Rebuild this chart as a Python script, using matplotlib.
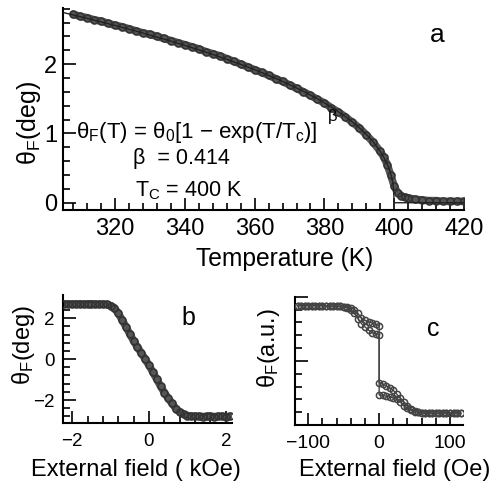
import numpy as np
import matplotlib
matplotlib.use("Agg")
import matplotlib.pyplot as plt
from matplotlib.ticker import MultipleLocator

plt.rcParams['font.family'] = ['Liberation Sans', 'DejaVu Sans']
plt.rcParams['mathtext.fontset'] = 'custom'
plt.rcParams['mathtext.rm'] = 'Liberation Sans'
plt.rcParams['mathtext.it'] = 'Liberation Sans:italic'
plt.rcParams['mathtext.default'] = 'regular'

# ---- (a) Faraday rotation vs temperature ----
temp_K = [308, 310, 312, 314, 316, 318, 320, 322, 324, 326, 328, 330, 332, 334,
          336, 338, 340, 342, 344, 346, 348, 350, 352, 354, 356, 358, 360, 362,
          364, 366, 368, 370, 372, 374, 376, 378, 380, 382, 384, 386, 388, 390,
          392, 394, 396, 397, 398, 399, 400, 401, 402, 403, 404, 406, 408, 410,
          412, 414, 416, 418, 420]
theta_T = [2.72, 2.69, 2.67, 2.64, 2.62, 2.59, 2.56, 2.54, 2.51, 2.48, 2.45, 2.43,
           2.40, 2.37, 2.34, 2.31, 2.28, 2.25, 2.22, 2.18, 2.15, 2.12, 2.08, 2.04,
           2.00, 1.96, 1.92, 1.88, 1.84, 1.79, 1.75, 1.70, 1.65, 1.60, 1.55, 1.49,
           1.44, 1.37, 1.31, 1.24, 1.16, 1.08, 0.98, 0.87, 0.74, 0.66, 0.55, 0.40,
           0.24, 0.14, 0.10, 0.08, 0.07, 0.05, 0.04, 0.03, 0.03, 0.02, 0.02, 0.02,
           0.02]
BETA = 0.414
T_C = 400.0
THETA_0 = 4.98

# ---- (b) Faraday rotation vs field (kOe) ----
field_kOe = [-2.2, -2.1, -2.0, -1.9, -1.8, -1.7, -1.6, -1.5, -1.4, -1.3, -1.2,
             -1.1, -1.0, -0.9, -0.8, -0.7, -0.6, -0.5, -0.4, -0.3, -0.2, -0.1,
             0.0, 0.1, 0.2, 0.3, 0.4, 0.5, 0.6, 0.7, 0.8, 0.9, 1.0, 1.1, 1.2,
             1.3, 1.4, 1.5, 1.6, 1.7, 1.8, 1.9, 2.0, 2.1]
theta_b = [2.70, 2.70, 2.69, 2.70, 2.70, 2.69, 2.70, 2.70, 2.69, 2.69, 2.69,
           2.68, 2.62, 2.50, 2.25, 1.92, 1.58, 1.23, 0.89, 0.58, 0.30, 0.00,
           -0.30, -0.64, -0.98, -1.32, -1.64, -1.92, -2.17, -2.42, -2.60, -2.70,
           -2.76, -2.79, -2.80, -2.80, -2.81, -2.80, -2.80, -2.81, -2.80, -2.80,
           -2.81, -2.80]

# ---- (c) hysteresis loop vs field (Oe) ----
field_up = [-115, -110, -105, -100, -95, -90, -85, -80, -75, -70, -65, -60, -55,
            -50, -45, -40, -35, -30, -25, -20, -15, -10, -5, 0, 0, 5, 10, 15,
            20, 25, 30, 35, 40, 45, 50, 55, 60, 65, 70, 75, 80, 85, 90, 95, 100,
            105, 110, 115]
theta_up = [0.86, 0.86, 0.86, 0.86, 0.86, 0.86, 0.86, 0.86, 0.86, 0.855, 0.85,
            0.85, 0.85, 0.845, 0.84, 0.83, 0.80, 0.74, 0.67, 0.63, 0.61, 0.59,
            0.57, 0.55, -0.34, -0.36, -0.39, -0.42, -0.46, -0.52, -0.58, -0.64,
            -0.70, -0.75, -0.78, -0.80, -0.81, -0.815, -0.815, -0.815, -0.815,
            -0.815, -0.815, -0.815, -0.815, -0.815, -0.815, -0.815]
field_down = [115, 110, 105, 100, 95, 90, 85, 80, 75, 70, 65, 60, 55, 50, 45,
              40, 35, 30, 25, 20, 15, 10, 5, 0, 0, -5, -10, -15, -20, -25, -30,
              -35, -40, -45, -50, -55, -60, -65, -70, -75, -80, -85, -90, -95,
              -100, -105, -110, -115]
theta_down = [-0.815, -0.815, -0.815, -0.815, -0.815, -0.815, -0.815, -0.815,
              -0.815, -0.815, -0.815, -0.81, -0.80, -0.79, -0.77, -0.74, -0.70,
              -0.64, -0.60, -0.58, -0.56, -0.55, -0.54, -0.53, 0.40, 0.42, 0.44,
              0.48, 0.53, 0.58, 0.66, 0.74, 0.80, 0.83, 0.84, 0.85, 0.85, 0.85,
              0.85, 0.855, 0.86, 0.86, 0.86, 0.86, 0.86, 0.86, 0.86, 0.86]

DATA_C = '#444444'
W, H = 494, 482

fig = plt.figure(figsize=(W / 100, H / 100), dpi=100)


def px_axes(left, top, right, bottom):
    return fig.add_axes([left / W, 1 - bottom / H, (right - left) / W,
                         (bottom - top) / H])


def style(ax, size=15, pad_x=7, pad_y=5):
    for s in ('top', 'right'):
        ax.spines[s].set_visible(False)
    for s in ('left', 'bottom'):
        ax.spines[s].set_linewidth(1.5)
    ax.tick_params(which='both', direction='in', width=1.2, labelsize=size)
    ax.tick_params(which='major', length=9)
    ax.tick_params(which='minor', length=5)
    ax.tick_params(axis='x', pad=pad_x)
    ax.tick_params(axis='y', pad=pad_y)


# panel a
ax_a = px_axes(62.7, 8, 464, 210)
style(ax_a, size=17, pad_x=6, pad_y=4)
ax_a.plot(temp_K, theta_T, '-', color=DATA_C, lw=5.5, alpha=0.9, zorder=2,
          solid_capstyle='round')
ax_a.plot(temp_K, theta_T, 'o', ms=5, mfc='none', mec='#333333', mew=1.2,
          zorder=3)
t_fit = np.linspace(305, T_C, 400)
fit = THETA_0 * np.clip(1 - t_fit / T_C, 0, None) ** BETA
ax_a.plot(np.append(t_fit, [T_C, 420]), np.append(fit, [0, 0]), '-',
          color='#222222', lw=1.0, zorder=4)
ax_a.set_xlim(305, 420)
ax_a.set_ylim(-0.105, 2.81)
ax_a.xaxis.set_major_locator(MultipleLocator(20))
ax_a.xaxis.set_minor_locator(MultipleLocator(4))
ax_a.yaxis.set_major_locator(MultipleLocator(1))
ax_a.yaxis.set_minor_locator(MultipleLocator(0.2))
ax_a.set_xlabel('Temperature (K)', fontsize=17.7)
ax_a.xaxis.set_label_coords(0.554, -0.185)
ax_a.set_ylabel(r'$θ_F$(deg)', fontsize=18)
ax_a.yaxis.set_label_coords(-0.05, 0.43)
ax_a.text(308.8, 1.02, r'$θ_F$(T) = $θ_0$[1 − exp(T/$T_c$)]', fontsize=16,
          va='center', ha='left')
ax_a.text(381, 1.24, 'β', fontsize=12, va='center', ha='left')
ax_a.text(325.2, 0.645, 'β  = 0.414', fontsize=15.5, va='center', ha='left')
ax_a.text(325.7, 0.17, r'$T_C$ = 400 K', fontsize=15.5, va='center',
          ha='left')
ax_a.text(437, H - 35, 'a', fontsize=19, va='center', ha='center',
          transform=None)

# panel b
ax_b = px_axes(63.3, 295, 232, 423.3)
style(ax_b, size=13.5, pad_x=7, pad_y=6)
ax_b.plot(field_kOe, theta_b, '-', color=DATA_C, lw=5.5, alpha=0.9, zorder=2,
          solid_capstyle='round')
ax_b.plot(field_kOe, theta_b, 'o', ms=5, mfc='none', mec='#333333', mew=1.2,
          zorder=3)
ax_b.set_xlim(-2.23, 2.16)
ax_b.set_ylim(-3.14, 3.14)
ax_b.xaxis.set_major_locator(MultipleLocator(2))
ax_b.xaxis.set_minor_locator(MultipleLocator(0.4))
ax_b.yaxis.set_major_locator(MultipleLocator(2))
ax_b.yaxis.set_minor_locator(MultipleLocator(0.4))
ax_b.set_xlabel('External field ( kOe)', fontsize=17)
ax_b.xaxis.label.set_verticalalignment('baseline')
ax_b.xaxis.set_label_coords(0.43, -0.41)
ax_b.set_ylabel(r'$θ_F$(deg)', fontsize=17)
ax_b.yaxis.set_label_coords(-0.156, 0.61)
ax_b.text(188, H - 318, 'b', fontsize=18, va='center', ha='center',
          transform=None)

# panel c
ax_c = px_axes(295, 296.7, 463.3, 425)
style(ax_c, size=14, pad_x=7, pad_y=5)
for f, th in ((field_up, theta_up), (field_down, theta_down)):
    ax_c.plot(f, th, '-', color=DATA_C, lw=1.0, zorder=2)
    ax_c.plot(f, th, 'o', ms=4.5, mfc='none', mec=DATA_C, mew=1.1, zorder=3)
ax_c.set_xlim(-118.8, 118.8)
ax_c.set_ylim(-1, 1)
ax_c.xaxis.set_major_locator(MultipleLocator(100))
ax_c.xaxis.set_minor_locator(MultipleLocator(20))
ax_c.yaxis.set_major_locator(MultipleLocator(1))
ax_c.yaxis.set_minor_locator(MultipleLocator(0.2))
ax_c.tick_params(axis='y', labelleft=False)
ax_c.set_xlabel('External field (Oe)', fontsize=17)
ax_c.xaxis.label.set_verticalalignment('baseline')
ax_c.xaxis.set_label_coords(0.594, -0.40)
ax_c.set_ylabel(r'$θ_F$(a.u.)', fontsize=17)
ax_c.yaxis.set_label_coords(-0.077, 0.60)
ax_c.text(433, H - 329, 'c', fontsize=18, va='center', ha='center',
          transform=None)

fig.savefig('out.png', dpi=100)
